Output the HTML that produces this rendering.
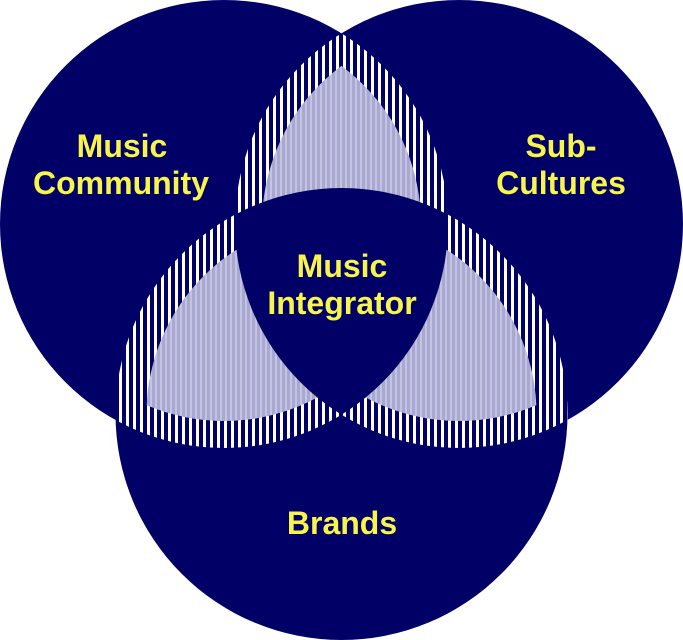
<!DOCTYPE html>
<html><head><style>
html,body{margin:0;padding:0;background:#fff;width:683px;height:640px;overflow:hidden}
text{font-family:"Liberation Sans",sans-serif;font-weight:bold;font-size:32px;fill:#f7f54a;text-anchor:middle}
</style></head><body>
<svg width="683" height="640" viewBox="0 0 683 640" xmlns="http://www.w3.org/2000/svg">
<defs>
<pattern id="st" width="7" height="10" patternUnits="userSpaceOnUse">
<rect width="7" height="10" fill="#000066"/><rect width="3" height="10" fill="#ffffff"/></pattern>
<pattern id="lt" width="5" height="10" patternUnits="userSpaceOnUse">
<rect width="5" height="10" fill="#a8a8d0"/><rect width="2" height="10" fill="#c4c4e2"/></pattern>
<clipPath id="A"><circle cx="224" cy="224" r="224"/></clipPath>
<clipPath id="B"><circle cx="459" cy="224" r="224"/></clipPath>
<clipPath id="iA"><circle cx="224" cy="224" r="197"/></clipPath>
<clipPath id="iB"><circle cx="459" cy="224" r="197"/></clipPath>
</defs>
<circle cx="224" cy="224" r="224" fill="#000066"/>
<circle cx="459" cy="224" r="224" fill="#000066"/>
<circle cx="341.5" cy="414" r="226" fill="#000066"/>
<g clip-path="url(#A)"><circle cx="459" cy="224" r="224" fill="url(#st)"/></g>
<g clip-path="url(#A)"><circle cx="341.5" cy="414" r="226" fill="url(#st)"/></g>
<g clip-path="url(#B)"><circle cx="341.5" cy="414" r="226" fill="url(#st)"/></g>
<g clip-path="url(#iA)"><circle cx="459" cy="224" r="197" fill="url(#lt)"/></g>
<g clip-path="url(#iA)"><circle cx="341.5" cy="414" r="195" fill="url(#lt)"/></g>
<g clip-path="url(#iB)"><circle cx="341.5" cy="414" r="195" fill="url(#lt)"/></g>
<g clip-path="url(#A)"><g clip-path="url(#B)"><circle cx="341.5" cy="414" r="226" fill="#000066"/></g></g>
<text x="122" y="157">Music</text>
<text x="121" y="194">Community</text>
<text x="561" y="157">Sub-</text>
<text x="561" y="194">Cultures</text>
<text x="342" y="277">Music</text>
<text x="342" y="314">Integrator</text>
<text x="342" y="534">Brands</text>
</svg>
</body></html>
